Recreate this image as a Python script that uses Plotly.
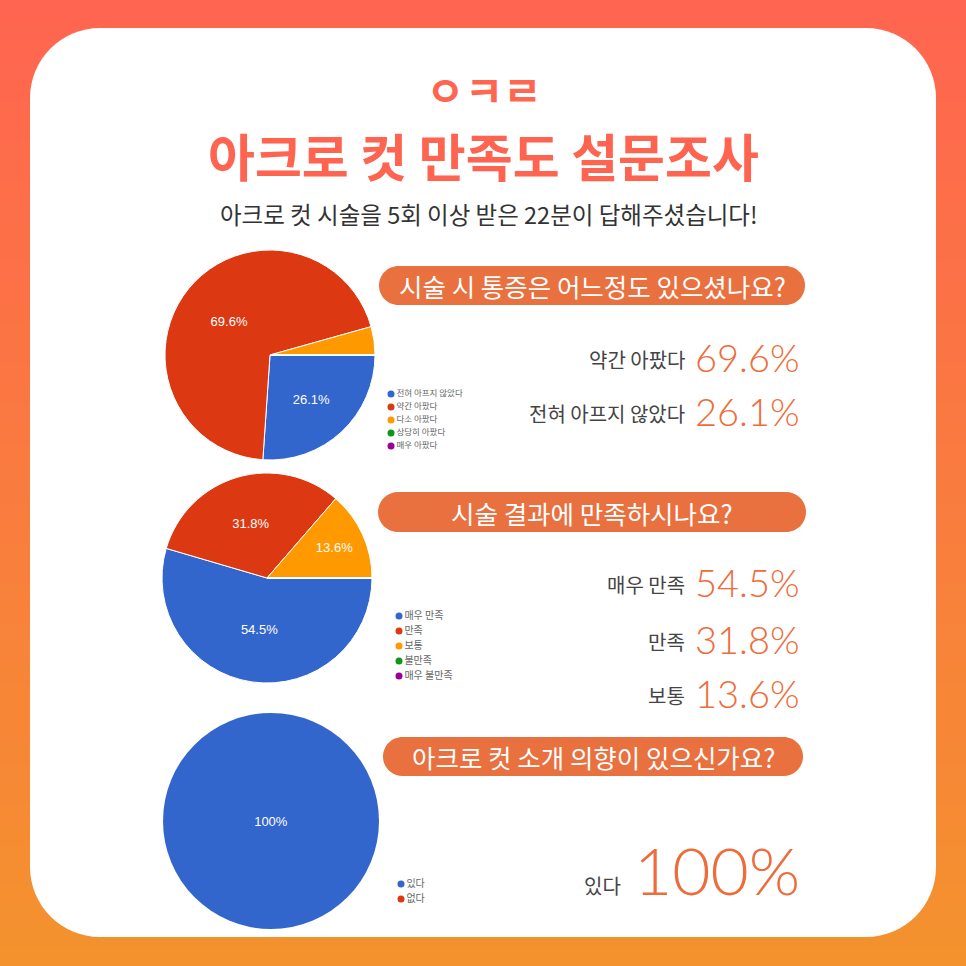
import plotly.graph_objects as go

W = H = 966

# ---- data ----
pain_labels = ["전혀 아프지 않았다", "약간 아팠다", "다소 아팠다", "상당히 아팠다", "매우 아팠다"]
pain_counts = [6, 16, 1, 0, 0]

sat_labels = ["매우 만족", "만족", "보통", "불만족", "매우 불만족"]
sat_counts = [12, 7, 3, 0, 0]

rec_labels = ["있다", "없다"]
rec_counts = [22, 0]

questions = ["시술 시 통증은 어느정도 있으셨나요?",
             "시술 결과에 만족하시나요?",
             "아크로 컷 소개 의향이 있으신가요?"]
n_callouts = [2, 3, 1]

GCOL = ["#3366cc", "#dc3912", "#ff9900", "#109618", "#990099"]
ORANGE = "#ef6c3a"
PILL = "#e9703f"
KR = "Noto Sans CJK KR"

# ---- layout boxes (pixels, top-left origin) ----
blocks = [
    dict(labels=pain_labels, counts=pain_counts, cx=270, cy=355, r=105,
         leg=(391, 394, 13, 8.5), pill=(379, 266, 805, 305),
         pct_y=[357, 411], lab_y=[359, 413], lab_x=687, pct_fs=38),
    dict(labels=sat_labels, counts=sat_counts, cx=267, cy=578, r=105,
         leg=(399, 616, 15, 10), pill=(378, 492, 806, 532),
         pct_y=[582, 639, 693], lab_y=[584, 641, 695], lab_x=687, pct_fs=38),
    dict(labels=rec_labels, counts=rec_counts, cx=271, cy=821, r=108,
         leg=(401, 884, 15, 10), pill=(383, 737, 803, 776),
         pct_y=[869], lab_y=[885], lab_x=623, pct_fs=66),
]


def fmt(p):
    return "100%" if round(p, 1) == 100 else f"{p:.1f}%"


def rrect(x0, y0, x1, y1, r):
    k = 0.5523 * r
    return (f"M{x0+r},{y0} L{x1-r},{y0} C{x1-r+k},{y0} {x1},{y0+r-k} {x1},{y0+r} "
            f"L{x1},{y1-r} C{x1},{y1-r+k} {x1-r+k},{y1} {x1-r},{y1} "
            f"L{x0+r},{y1} C{x0+r-k},{y1} {x0},{y1-r+k} {x0},{y1-r} "
            f"L{x0},{y0+r} C{x0},{y0+r-k} {x0+r-k},{y0} {x0+r},{y0} Z")


fig = go.Figure()
shapes, annos = [], []

# background gradient (coral -> orange) drawn as thin bands
top, bot = (255, 101, 80), (244, 146, 46)
nb = 48
for i in range(nb):
    t = i / (nb - 1)
    c = tuple(round(a + (b - a) * t) for a, b in zip(top, bot))
    shapes.append(dict(type="rect", xref="x", yref="y", x0=0, x1=W,
                       y0=i * H / nb, y1=(i + 1) * H / nb + 1,
                       fillcolor=f"rgb{c}", line_width=0, layer="below"))
shapes.append(dict(type="path", xref="x", yref="y", path=rrect(30, 28, 936, 937, 70),
                   fillcolor="white", line_width=0, layer="below"))

# header
annos.append(dict(x=484, y=88, text="<b>ㅇㅋㄹ</b>", font=dict(family=KR, size=42, color="#ff6650")))
annos.append(dict(x=483, y=155, text="<b>아크로 컷 만족도 설문조사</b>",
                  font=dict(family=KR, size=51, color="#ff6450")))
annos.append(dict(x=489, y=214, text="아크로 컷 시술을 5회 이상 받은 22분이 답해주셨습니다!",
                  font=dict(family=KR, size=23.5, color="#333333")))

for q, b, ncall in zip(questions, blocks, n_callouts):
    labels, counts = b["labels"], b["counts"]
    total = sum(counts)
    pcts = [c / total * 100 for c in counts]
    txt = [fmt(p) if p >= 5 else "" for p in pcts]
    cx, cy, r = b["cx"], b["cy"], b["r"]
    full = max(pcts) >= 100
    fig.add_trace(go.Pie(
        labels=labels, values=counts, text=txt, textinfo="text",
        sort=False, direction="clockwise", rotation=90,
        marker=dict(colors=GCOL[:len(labels)],
                    line=dict(color="white", width=0 if full else 1)),
        textposition="inside", insidetextorientation="horizontal",
        textfont=dict(family="Arial, Liberation Sans", size=13, color="white"),
        domain=dict(x=[(cx - r) / W, (cx + r) / W], y=[1 - (cy + r) / H, 1 - (cy - r) / H]),
        hoverinfo="label+percent", showlegend=False,
    ))

    # google-forms style legend
    lx, ly, dy, fs = b["leg"]
    fig.add_trace(go.Scatter(
        x=[lx] * len(labels), y=[ly + i * dy for i in range(len(labels))],
        mode="markers+text", text=labels, textposition="middle right",
        marker=dict(size=7, color=GCOL[:len(labels)]),
        textfont=dict(family=KR, size=fs, color="#666666"),
        hoverinfo="skip", showlegend=False, cliponaxis=False,
    ))

    # question pill
    x0, y0, x1, y1 = b["pill"]
    shapes.append(dict(type="path", xref="x", yref="y", path=rrect(x0, y0, x1, y1, (y1 - y0) / 2),
                       fillcolor=PILL, line_width=0, layer="below"))
    annos.append(dict(x=(x0 + x1) / 2, y=(y0 + y1) / 2, text=q,
                      font=dict(family=KR, size=25.5, color="white")))

    # call-outs: biggest answers
    order = sorted(range(len(counts)), key=lambda i: -counts[i])[:ncall]
    for k, i in enumerate(order):
        annos.append(dict(x=b["lab_x"], y=b["lab_y"][k], xanchor="right", text=labels[i],
                          font=dict(family=KR, size=20, color="#444444")))
        annos.append(dict(x=802, y=b["pct_y"][k], xanchor="right", text=fmt(pcts[i]),
                          font=dict(family="Lato, Noto Sans", size=b["pct_fs"], color=ORANGE,
                                    weight=300)))

for a in annos:
    a.update(xref="x", yref="y", showarrow=False, yanchor=a.get("yanchor", "middle"))

fig.update_layout(
    width=W, height=H, margin=dict(l=0, r=0, t=0, b=0),
    paper_bgcolor="white", plot_bgcolor="rgba(0,0,0,0)",
    xaxis=dict(range=[0, W], visible=False, fixedrange=True),
    yaxis=dict(range=[H, 0], visible=False, fixedrange=True),
    shapes=shapes, annotations=annos, showlegend=False,
)

fig.write_html("out.html", config={"displayModeBar": False},
               post_script="document.body.style.margin='0';")
